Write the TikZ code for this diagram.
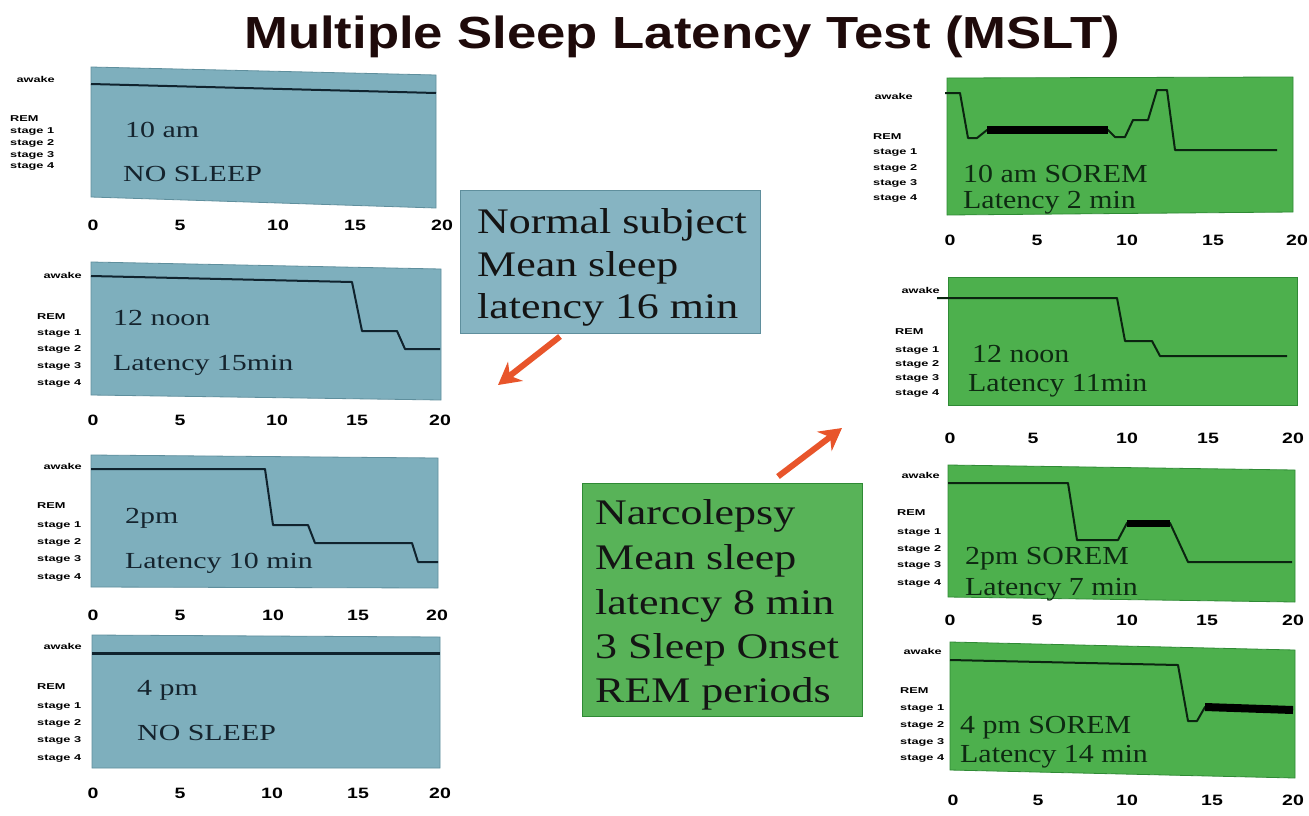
\documentclass[tikz,border=0pt]{standalone}
\usepackage{fontspec}
\setmainfont{Liberation Serif}
\newfontfamily\arialf{Liberation Sans}
\usetikzlibrary{arrows.meta}

\definecolor{bluefill}{HTML}{7EAFBD}
\definecolor{blueedge}{HTML}{5F8F9D}
\definecolor{boxblue}{HTML}{86B4C2}
\definecolor{greenfill}{HTML}{4DB04D}
\definecolor{greenedge}{HTML}{2F8A35}
\definecolor{boxgreen}{HTML}{58B358}
\definecolor{tracecol}{HTML}{10232E}
\definecolor{gtracecol}{HTML}{0B2410}
\definecolor{arrowred}{HTML}{E8552B}
\definecolor{btext}{HTML}{15242E}
\definecolor{gtext}{HTML}{0E2A12}
\definecolor{titlecol}{HTML}{1E0A0A}

\newcommand{\sx}[2]{\scalebox{#1}[1]{#2}}

\tikzset{
  panelL/.style={fill=bluefill, draw=blueedge, line width=0.8pt},
  panelR/.style={fill=greenfill, draw=greenedge, line width=0.8pt},
  traceL/.style={draw=tracecol, line width=2pt, line join=round},
  traceR/.style={draw=gtracecol, line width=2pt, line join=round},
  remband/.style={draw=black, line width=8pt},
  stagelbl/.style={anchor=west, inner sep=0pt, font=\arialf\bfseries\fontsize{8.5}{8.5}\selectfont},
  awakelbl/.style={anchor=east, inner sep=0pt, font=\arialf\bfseries\fontsize{8.5}{8.5}\selectfont},
  axisnum/.style={inner sep=0pt, font=\arialf\bfseries\fontsize{15}{15}\selectfont},
  ptextL/.style={anchor=base west, inner sep=0pt, text=btext, font=\fontsize{23}{23}\selectfont},
  ptextR/.style={anchor=base west, inner sep=0pt, text=gtext, font=\fontsize{26}{26}\selectfont},
  bigtext/.style={anchor=base west, inner sep=0pt, text=black!92, font=\fontsize{36}{36}\selectfont},
  fatarrow/.style={draw=arrowred, line width=6pt, -{Stealth[length=22pt,width=24pt,inset=7pt]}},
}

% #1 name prefix, #2 left x, #3 awake right x, #4 awake y, #5..#9 REM, s1..s4 y
\newcommand{\ylab}[9]{%
  \node[awakelbl] (#1aw) at (#3,#4) {\sx{1.5}{awake}};
  \node[stagelbl] (#1rem) at (#2,#5) {\sx{1.5}{REM}};
  \node[stagelbl] (#1s1) at (#2,#6) {\sx{1.5}{stage 1}};
  \node[stagelbl] (#1s2) at (#2,#7) {\sx{1.5}{stage 2}};
  \node[stagelbl] (#1s3) at (#2,#8) {\sx{1.5}{stage 3}};
  \node[stagelbl] (#1s4) at (#2,#9) {\sx{1.5}{stage 4}};
}
% #1 prefix, #2..#6 x of 0,5,10,15,20, #7 y
\newcommand{\xnums}[7]{%
  \node[axisnum] (#1n0) at (#2,#7) {\sx{1.3}{0}};
  \node[axisnum] (#1n5) at (#3,#7) {\sx{1.3}{5}};
  \node[axisnum] (#1n10) at (#4,#7) {\sx{1.3}{10}};
  \node[axisnum] (#1n15) at (#5,#7) {\sx{1.3}{15}};
  \node[axisnum] (#1n20) at (#6,#7) {\sx{1.3}{20}};
}

\begin{document}
\begin{tikzpicture}[x=1pt,y=-1pt]
\useasboundingbox[fill=white] (0,0) rectangle (1309,815);

% Title
\node[anchor=base, inner sep=0pt, text=titlecol, font=\arialf\bfseries\fontsize{45}{45}\selectfont] (title) at (682,48) {\sx{1.17}{Multiple Sleep Latency Test (MSLT)}};

% ---------- Left panels (normal subject) ----------
% L1 10 am
\fill[panelL] (91,67) -- (436,75) -- (436,208) -- (91,197) -- cycle;
\draw[traceL] (91,84) -- (436,93);
\ylab{La}{10}{55}{79}{119}{131}{143}{155}{166}
\node[ptextL] (La1) at (125,137) {\sx{1.3}{10 am}};
\node[ptextL] (La2) at (123,181) {\sx{1.3}{NO SLEEP}};
\xnums{La}{93}{180}{278}{355}{442}{225}

% L2 12 noon
\fill[panelL] (91,262) -- (441,269) -- (441,400) -- (91,395) -- cycle;
\draw[traceL] (91,276) -- (352,282) -- (362,331) -- (397,331) -- (405,349) -- (440,349);
\ylab{Lb}{37}{82}{275}{317}{333}{349}{366}{383}
\node[ptextL] (Lb1) at (113,325) {\sx{1.3}{12 noon}};
\node[ptextL] (Lb2) at (113,370) {\sx{1.3}{Latency 15min}};
\xnums{Lb}{93}{180}{277}{357}{440}{420}

% L3 2pm
\fill[panelL] (91,455) -- (438,458) -- (438,588) -- (91,587) -- cycle;
\draw[traceL] (91,469) -- (265,469) -- (273,525) -- (308,525) -- (315,543) -- (412,543) -- (418,562) -- (438,562);
\ylab{Lc}{37}{82}{466}{506}{525}{542}{559}{577}
\node[ptextL] (Lc1) at (125,523) {\sx{1.3}{2pm}};
\node[ptextL] (Lc2) at (125,568) {\sx{1.3}{Latency 10 min}};
\xnums{Lc}{93}{180}{273}{358}{437}{615}

% L4 4 pm
\fill[panelL] (92,635) -- (440,637) -- (440,768) -- (92,768) -- cycle;
\draw[traceL, line width=3pt] (92,653) -- (440,653);
\ylab{Ld}{37}{82}{646}{687}{706}{723}{740}{758}
\node[ptextL] (Ld1) at (137,695) {\sx{1.3}{4 pm}};
\node[ptextL] (Ld2) at (137,740) {\sx{1.3}{NO SLEEP}};
\xnums{Ld}{93}{180}{272}{358}{440}{793}

% ---------- Right panels (narcolepsy) ----------
% R1 10 am SOREM
\fill[panelR] (947,78) -- (1293,77) -- (1293,212) -- (947,215) -- cycle;
\draw[traceR] (945,93) -- (960,93) -- (968,138) -- (977,138) -- (987,130) -- (1108,130) -- (1115,137) -- (1125,137) -- (1133,120) -- (1148,120) -- (1157,90) -- (1167,90) -- (1175,150) -- (1277,150);
\draw[remband] (987,130) -- (1108,130);
\ylab{Ra}{873}{913}{96}{137}{152}{168}{183}{198}
\node[ptextR] (Ra1) at (963,182) {\sx{1.15}{10 am SOREM}};
\node[ptextR] (Ra2) at (963,208) {\sx{1.15}{Latency 2 min}};
\xnums{Ra}{950}{1037}{1127}{1213}{1297}{240}

% R2 12 noon
\fill[panelR] (948,277) -- (1297,277) -- (1297,405) -- (948,405) -- cycle;
\draw[traceR] (937,298) -- (1117,298) -- (1125,341) -- (1152,341) -- (1160,356) -- (1287,356);
\ylab{Rb}{895}{940}{290}{332}{350}{364}{378}{393}
\node[ptextR] (Rb1) at (972,362) {\sx{1.15}{12 noon}};
\node[ptextR] (Rb2) at (968,391) {\sx{1.15}{Latency 11min}};
\xnums{Rb}{950}{1033}{1127}{1208}{1293}{438}

% R3 2pm SOREM
\fill[panelR] (948,465) -- (1295,470) -- (1295,602) -- (948,597) -- cycle;
\draw[traceR] (948,483) -- (1068,483) -- (1077,540) -- (1118,540) -- (1127,523) -- (1170,523) -- (1188,562) -- (1292,562);
\draw[remband, line width=7pt] (1127,523) -- (1170,523);
\ylab{Rc}{897}{940}{475}{513}{532}{549}{565}{583}
\node[ptextR] (Rc1) at (965,564) {\sx{1.15}{2pm SOREM}};
\node[ptextR] (Rc2) at (965,595) {\sx{1.15}{Latency 7 min}};
\xnums{Rc}{950}{1037}{1127}{1207}{1293}{620}

% R4 4 pm SOREM
\fill[panelR] (950,642) -- (1295,650) -- (1295,778) -- (950,770) -- cycle;
\draw[traceR] (950,660) -- (1178,665) -- (1188,721) -- (1197,721) -- (1205,707) -- (1293,710);
\draw[remband] (1205,707) -- (1293,710);
\ylab{Rd}{900}{942}{651}{691}{708}{725}{742}{758}
\node[ptextR] (Rd1) at (960,733) {\sx{1.15}{4 pm SOREM}};
\node[ptextR] (Rd2) at (960,762) {\sx{1.15}{Latency 14 min}};
\xnums{Rd}{953}{1038}{1127}{1212}{1293}{800}

% ---------- Summary boxes ----------
\node[draw=blueedge, fill=boxblue, line width=1pt, minimum width=300pt, minimum height=143pt, inner sep=0pt] (normal) at (610,261.5) {};
\node[bigtext] (nt1) at (477,233) {\sx{1.22}{Normal subject}};
\node[bigtext] (nt2) at (477,276) {\sx{1.22}{Mean sleep}};
\node[bigtext] (nt3) at (477,318) {\sx{1.22}{latency 16 min}};

\node[draw=greenedge, fill=boxgreen, line width=1pt, minimum width=280pt, minimum height=233pt, inner sep=0pt] (narc) at (722,599.5) {};
\node[bigtext] (ct1) at (595,524) {\sx{1.22}{Narcolepsy}};
\node[bigtext] (ct2) at (595,569) {\sx{1.22}{Mean sleep}};
\node[bigtext] (ct3) at (595,614) {\sx{1.22}{latency 8 min}};
\node[bigtext] (ct4) at (595,658) {\sx{1.22}{3 Sleep Onset}};
\node[bigtext] (ct5) at (595,702) {\sx{1.22}{REM periods}};

% ---------- Arrows ----------
\coordinate (a1e) at (498,385);
\coordinate (a2e) at (842,428);
\draw[fatarrow] (normal.south -| 560,0) ++(0,3) -- (a1e);
\draw[fatarrow] (narc.north -| 778,0) ++(0,-6) -- (a2e);

\end{tikzpicture}
\end{document}
